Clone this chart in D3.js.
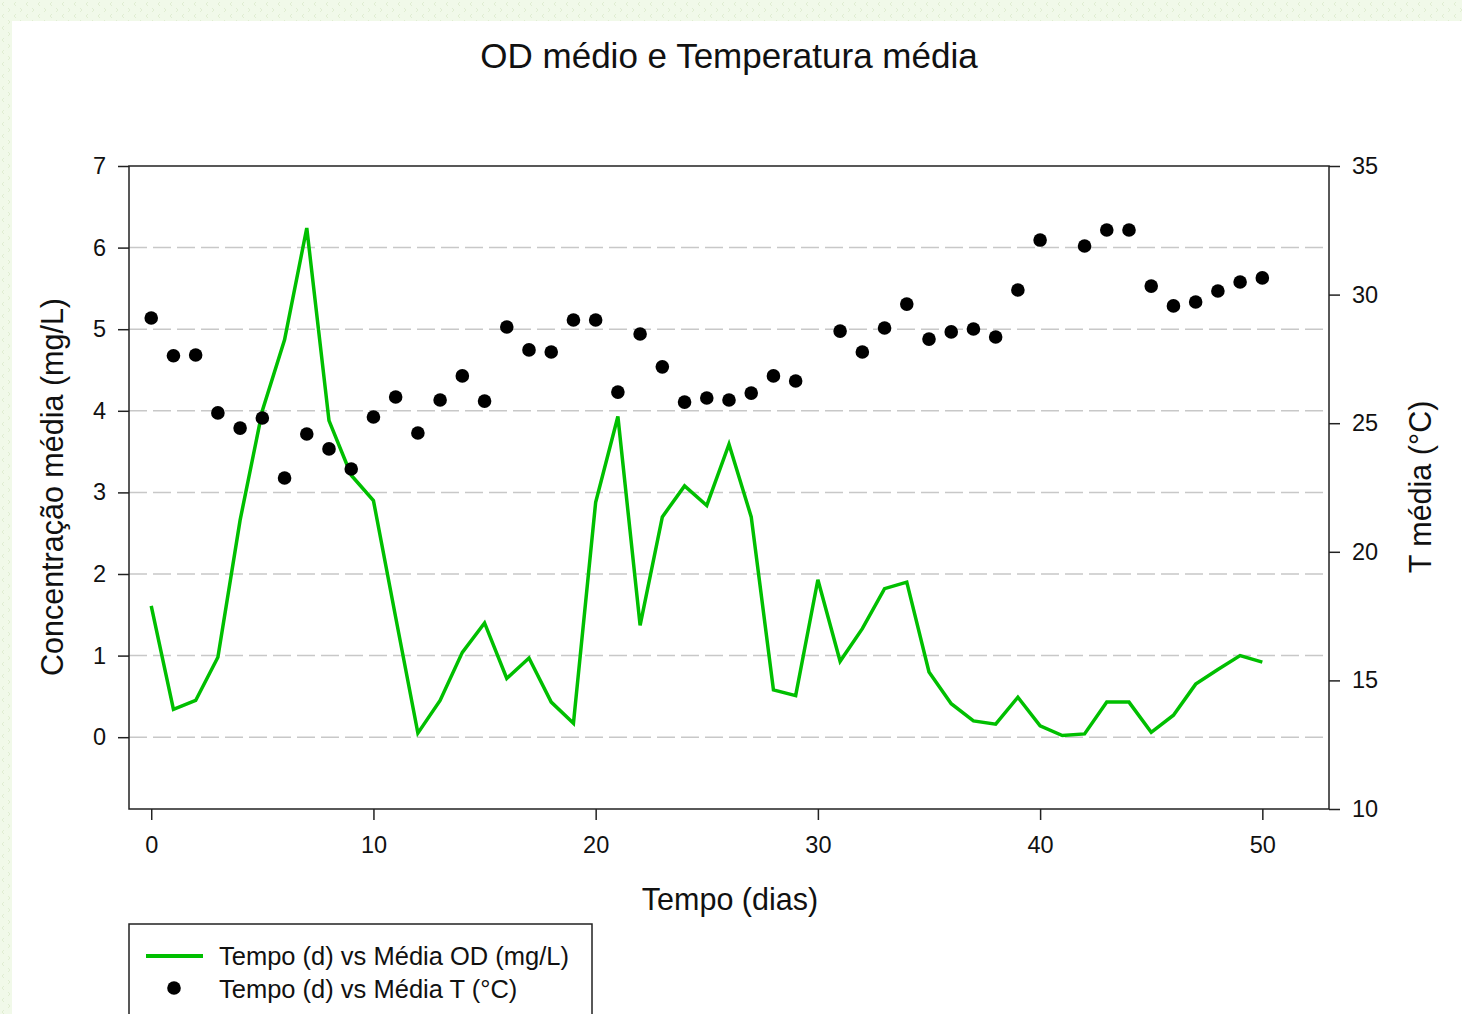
<!DOCTYPE html>
<html>
<head>
<meta charset="utf-8">
<script src="https://cdn.jsdelivr.net/npm/d3@7"></script>
<style>
  body { margin: 0; background: #f1f9e9; }
  text { font-family: "Liberation Sans", Arial, sans-serif; fill: #111; }
</style>
</head>
<body>
<div class="canvas"></div>
<script>

// data
const days = [0,1,2,3,4,5,6,7,8,9,10,11,12,13,14,15,16,17,18,19,20,21,22,23,24,25,
    26,27,28,29,30,31,32,33,34,35,36,37,38,39,40,41,42,43,44,45,46,47,48,49,50];
const odMean = [1.61,0.34,0.45,0.98,2.66,4.0,4.87,6.24,3.88,3.21,
    2.9,1.47,0.05,0.45,1.04,1.40,0.72,0.97,0.43,0.17,
    2.88,3.93,1.37,2.70,3.08,2.84,3.59,2.70,0.58,0.51,
    1.93,0.93,1.33,1.82,1.90,0.80,0.41,0.20,0.16,0.49,
    0.14,0.02,0.04,0.43,0.43,0.06,0.27,0.65,0.83,1.00,0.92];
const tempMean = [29.09,27.62,27.65,25.40,24.81,25.20,22.87,24.58,24.0,23.22,
    25.24,26.02,24.62,25.90,26.84,25.86,28.74,27.85,27.77,29.01,
    29.01,26.21,28.47,27.19,25.82,25.98,25.90,26.17,26.84,26.64,
    null,28.58,27.77,28.70,29.63,28.27,28.55,28.66,28.35,30.18,
    32.12,null,31.89,32.51,32.51,30.33,29.56,29.71,30.14,30.49,30.65];
const xTicks = [0,10,20,30,40,50];
const leftTicks = [0,1,2,3,4,5,6,7];
const rightTicks = [10,15,20,25,30,35];
const legendLabels = ['Tempo (d) vs Média OD (mg/L)', 'Tempo (d) vs Média T (°C)'];

const green = '#00bf00';

const svg = d3.select('.canvas')
    .append('svg')
        .attr('width', 1462)
        .attr('height', 1014)
        .style('display', 'block');

// light patterned page background + white panel
const defs = svg.append('defs');
const pat = defs.append('pattern')
    .attr('id', 'bgpat')
    .attr('width', 12)
    .attr('height', 12)
    .attr('patternUnits', 'userSpaceOnUse');
pat.append('rect').attr('width', 12).attr('height', 12).attr('fill', '#f1f9e9');
pat.append('path')
    .attr('d', 'M4,2 L2,4 L4,6 M8,8 L10,10 L8,12')
    .attr('stroke', '#e0edd2')
    .attr('fill', 'none');

svg.append('rect')
    .attr('width', 1462)
    .attr('height', 1014)
    .attr('fill', 'url(#bgpat)');
svg.append('rect')
    .attr('x', 12)
    .attr('y', 21)
    .attr('width', 1450)
    .attr('height', 993)
    .attr('fill', '#fff');

// plot area
const margin = {top: 166, left: 129};
const graphWidth = 1200;
const graphHeight = 643;

const graph = svg.append('g')
    .attr('transform', `translate(${margin.left}, ${margin.top})`);

const x = d3.scaleLinear()
    .domain([-1, 53])
    .range([0, graphWidth]);

const yLeft = d3.scaleLinear()
    .domain([-0.88, 7])
    .range([graphHeight, 0]);

const yRight = d3.scaleLinear()
    .domain([10, 35])
    .range([graphHeight, 0]);

// dashed grid lines at left ticks
graph.append('g')
    .selectAll('line')
    .data(leftTicks.filter(d => d < 7))
    .enter()
    .append('line')
        .attr('x1', 0)
        .attr('x2', graphWidth)
        .attr('y1', d => yLeft(d))
        .attr('y2', d => yLeft(d))
        .attr('stroke', '#c8c8c8')
        .attr('stroke-width', 1.5)
        .attr('stroke-dasharray', '18,6');

// axes
const xAxis = d3.axisBottom(x).tickValues(xTicks).tickSize(11).tickPadding(12);
const leftAxis = d3.axisLeft(yLeft).tickValues(leftTicks).tickSize(11).tickPadding(12);
const rightAxis = d3.axisRight(yRight).tickValues(rightTicks).tickSize(11).tickPadding(12);

const xAxisGroup = graph.append('g')
    .attr('transform', `translate(0, ${graphHeight})`)
    .call(xAxis);
const leftGroup = graph.append('g').call(leftAxis);
const rightGroup = graph.append('g')
    .attr('transform', `translate(${graphWidth}, 0)`)
    .call(rightAxis);

[xAxisGroup, leftGroup, rightGroup].forEach(g => {
    g.select('.domain').remove();
    g.selectAll('line').attr('stroke', '#222').attr('stroke-width', 1.5);
    g.selectAll('text').attr('font-size', 23.5).attr('fill', '#111');
});
xAxisGroup.selectAll('text').attr('dy', '0.9em');

// frame
graph.append('rect')
    .attr('width', graphWidth)
    .attr('height', graphHeight)
    .attr('fill', 'none')
    .attr('stroke', '#222')
    .attr('stroke-width', 1.5);

// OD line
const line = d3.line()
    .x((d, i) => x(days[i]))
    .y(d => yLeft(d));

graph.append('path')
    .datum(odMean)
    .attr('d', line)
    .attr('fill', 'none')
    .attr('stroke', green)
    .attr('stroke-width', 3.5)
    .attr('stroke-linejoin', 'miter');

// temperature dots
graph.append('g')
    .selectAll('circle')
    .data(days.filter((d, i) => tempMean[i] !== null))
    .enter()
    .append('circle')
        .attr('cx', d => x(d))
        .attr('cy', d => yRight(tempMean[d]))
        .attr('r', 6.8)
        .attr('fill', '#000');

// titles
svg.append('text')
    .attr('x', 729)
    .attr('y', 68)
    .attr('text-anchor', 'middle')
    .attr('font-size', 35)
    .text('OD médio e Temperatura média');

svg.append('text')
    .attr('x', 730)
    .attr('y', 910)
    .attr('text-anchor', 'middle')
    .attr('font-size', 30.5)
    .text('Tempo (dias)');

svg.append('text')
    .attr('transform', 'translate(63, 487) rotate(-90)')
    .attr('text-anchor', 'middle')
    .attr('font-size', 30.5)
    .text('Concentração média (mg/L)');

svg.append('text')
    .attr('transform', 'translate(1431, 487) rotate(-90)')
    .attr('text-anchor', 'middle')
    .attr('font-size', 30.5)
    .text('T média (°C)');

// legend
const legend = svg.append('g');
legend.append('rect')
    .attr('x', 129)
    .attr('y', 924)
    .attr('width', 463)
    .attr('height', 120)
    .attr('fill', '#fff')
    .attr('stroke', '#222')
    .attr('stroke-width', 1.5);
legend.append('line')
    .attr('x1', 146)
    .attr('x2', 203)
    .attr('y1', 956)
    .attr('y2', 956)
    .attr('stroke', green)
    .attr('stroke-width', 4);
legend.append('circle')
    .attr('cx', 174)
    .attr('cy', 988)
    .attr('r', 6.8)
    .attr('fill', '#000');
legend.selectAll('text.lab')
    .data(legendLabels)
    .enter()
    .append('text')
        .attr('class', 'lab')
        .attr('x', 219)
        .attr('y', (d, i) => 965 + i * 33)
        .attr('font-size', 25.5)
        .text(d => d);

</script>
</body>
</html>
